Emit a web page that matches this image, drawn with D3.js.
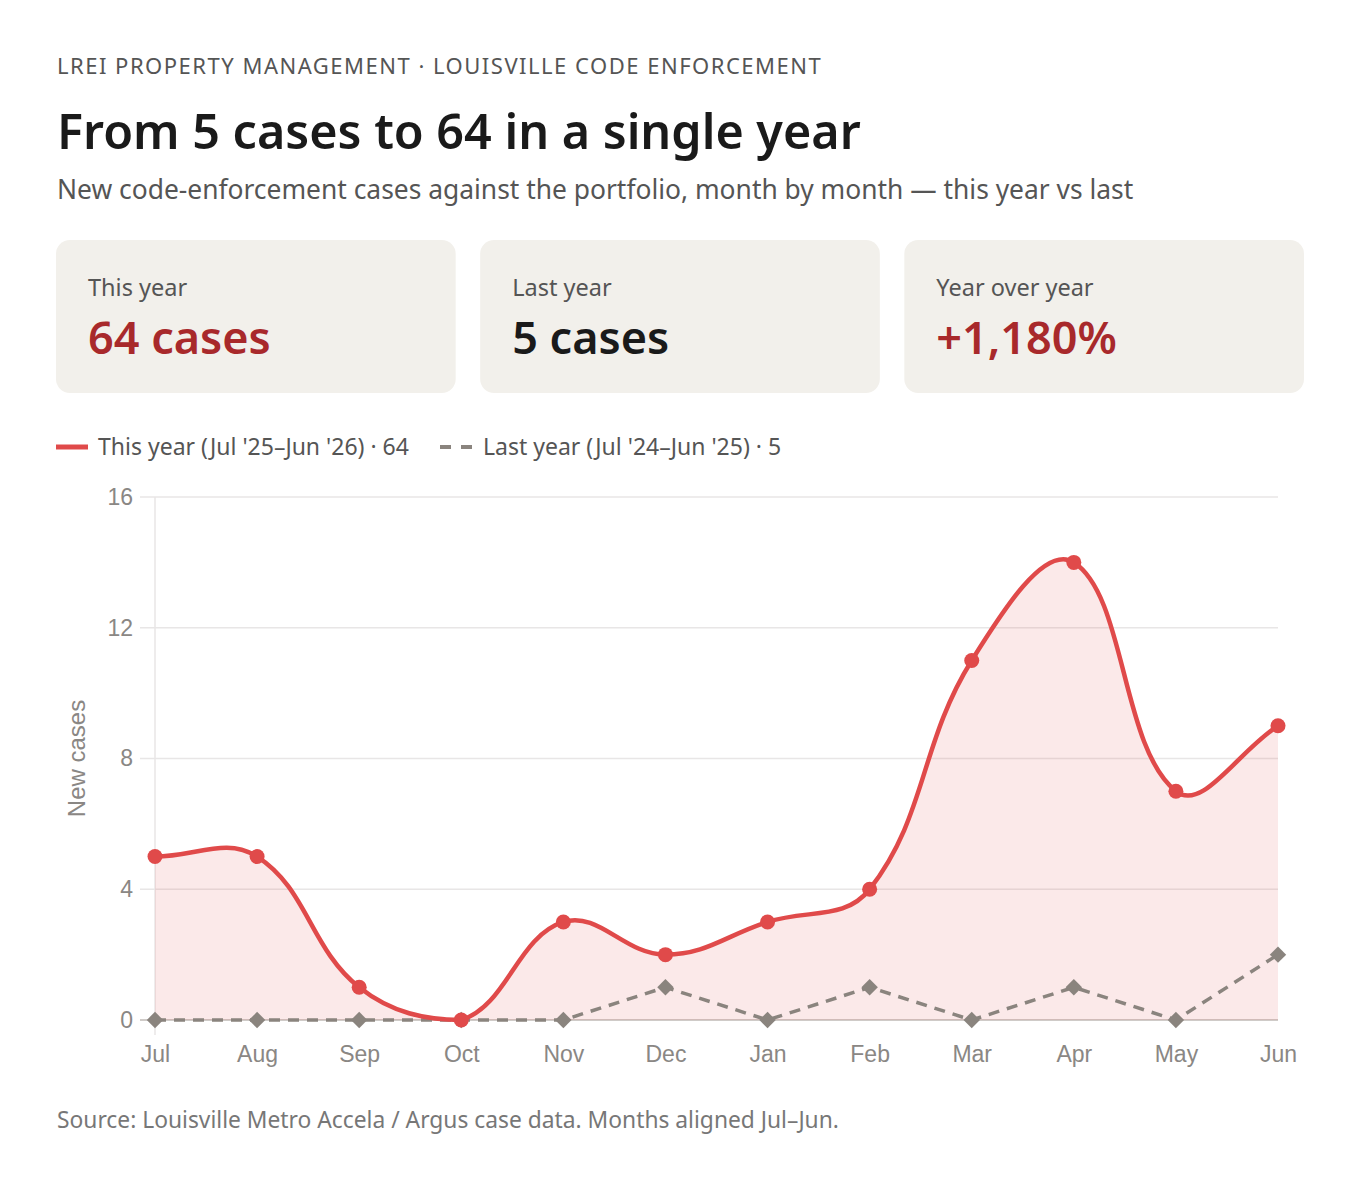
<!DOCTYPE html>
<html><head><meta charset="utf-8">
<script src="https://cdn.jsdelivr.net/npm/d3@7/dist/d3.min.js"></script>
<style>
html,body{margin:0;padding:0;background:#fff;}
svg{display:block;}
</style></head>
<body>
<svg id="chart" width="1360" height="1182"></svg>
<script>
const months = ["Jul","Aug","Sep","Oct","Nov","Dec","Jan","Feb","Mar","Apr","May","Jun"];
const thisYear = [5,5,1,0,3,2,3,4,11,14,7,9];
const lastYear = [0,0,0,0,0,1,0,1,0,1,0,2];
const yTicks = [0,4,8,12,16];
const kicker = "LREI PROPERTY MANAGEMENT · LOUISVILLE CODE ENFORCEMENT";
const title = "From 5 cases to 64 in a single year";
const subtitle = "New code-enforcement cases against the portfolio, month by month — this year vs last";
const cards = [
  {label:"This year", value:"64 cases", accent:true},
  {label:"Last year", value:"5 cases", accent:false},
  {label:"Year over year", value:"+1,180%", accent:true}
];
const legendItems = ["This year (Jul '25–Jun '26) · 64", "Last year (Jul '24–Jun '25) · 5"];
const source = "Source: Louisville Metro Accela / Argus case data. Months aligned Jul–Jun.";

const UI = "'Segoe UI','Noto Sans','Open Sans',sans-serif";
const AX = "'Liberation Sans',Arial,Helvetica,sans-serif";
const RED = "#e04a4a", DARKRED = "#a8292b", GREY = "#8a847e";

const svg = d3.select("#chart");

svg.append("text").attr("x",57).attr("y",74).attr("font-family",UI).attr("font-size",22)
  .attr("letter-spacing",1.5).attr("fill","#555").text(kicker);
svg.append("text").attr("x",57).attr("y",149).attr("font-family",UI).attr("font-size",48.5)
  .attr("font-weight",600).attr("fill","#1a1a1a").text(title);
svg.append("text").attr("x",57).attr("y",199).attr("font-family",UI).attr("font-size",26.4)
  .attr("fill","#555").text(subtitle);

// cards
const cardX = d3.scaleBand().domain(d3.range(cards.length)).range([56,1304]).paddingInner(24/(1248/3));
const cg = svg.selectAll("g.card").data(cards).join("g").attr("class","card")
  .attr("transform",(d,i)=>`translate(${cardX(i)},240)`);
cg.append("rect").attr("width",cardX.bandwidth()).attr("height",153).attr("rx",14).attr("fill","#f2f0eb");
cg.append("text").attr("x",32).attr("y",56).attr("font-family",UI).attr("font-size",23.5).attr("fill","#555").text(d=>d.label);
cg.append("text").attr("x",32).attr("y",114).attr("font-family",UI).attr("font-size",45).attr("font-weight",600)
  .attr("fill",d=>d.accent?DARKRED:"#1a1a1a").text(d=>d.value);

// legend
const lg = svg.append("g");
lg.append("line").attr("x1",56).attr("x2",88).attr("y1",447).attr("y2",447).attr("stroke",RED).attr("stroke-width",5);
lg.append("text").attr("x",98).attr("y",455).attr("font-family",UI).attr("font-size",23).attr("fill","#555").text(legendItems[0]);
lg.append("line").attr("x1",440).attr("x2",472).attr("y1",447).attr("y2",447).attr("stroke",GREY).attr("stroke-width",4).attr("stroke-dasharray","11,10");
lg.append("text").attr("x",483).attr("y",455).attr("font-family",UI).attr("font-size",23).attr("fill","#555").text(legendItems[1]);

// chart
const pLeft=155,pRight=1278,pTop=497,pBottom=1020;
const x = d3.scalePoint().domain(months).range([pLeft,pRight]);
const y = d3.scaleLinear().domain([0,16]).range([pBottom,pTop]);

// grid
const grid = svg.append("g");
grid.selectAll("line.h").data(yTicks).join("line")
  .attr("x1",140).attr("x2",pRight).attr("y1",d=>y(d)).attr("y2",d=>y(d))
  .attr("stroke",d=>d===0?"#cfcbc8":"#e8e6e6").attr("stroke-width",d=>d===0?2:1.5);
grid.append("line").attr("x1",pLeft).attr("x2",pLeft).attr("y1",pTop).attr("y2",1035)
  .attr("stroke","#e8e6e6").attr("stroke-width",1.5);

const yAxis = d3.axisLeft(y).tickValues(yTicks).tickSize(0).tickPadding(22);
svg.append("g").attr("transform",`translate(${pLeft},0)`).call(yAxis)
  .call(g=>g.select(".domain").remove())
  .call(g=>g.selectAll("text").attr("font-family",AX).attr("font-size",23).attr("fill","#8a8784"));
const xAxis = d3.axisBottom(x).tickSize(0).tickPadding(26);
svg.append("g").attr("transform",`translate(0,${pBottom})`).call(xAxis)
  .call(g=>g.select(".domain").remove())
  .call(g=>g.selectAll("text").attr("font-family",AX).attr("font-size",23).attr("fill","#8a8784"));
svg.append("text").attr("transform",`translate(85,${(pTop+pBottom)/2}) rotate(-90)`).attr("text-anchor","middle")
  .attr("font-family",AX).attr("font-size",24).attr("fill","#8a8784").text("New cases");

// Chart.js-like spline
function splinePath(pts, t){
  const clampX=v=>Math.max(pLeft,Math.min(pRight,v)), clampY=v=>Math.max(pTop,Math.min(pBottom,v));
  const cp = pts.map((p,i)=>{
    const prev = pts[i-1]||p, next = pts[i+1]||p;
    const d01 = Math.hypot(p[0]-prev[0],p[1]-prev[1]);
    const d12 = Math.hypot(next[0]-p[0],next[1]-p[1]);
    let s01 = d01/(d01+d12), s12 = d12/(d01+d12);
    if(!isFinite(s01)) s01=0; if(!isFinite(s12)) s12=0;
    const fa=t*s01, fb=t*s12;
    return {
      p:[clampX(p[0]-fa*(next[0]-prev[0])), clampY(p[1]-fa*(next[1]-prev[1]))],
      n:[clampX(p[0]+fb*(next[0]-prev[0])), clampY(p[1]+fb*(next[1]-prev[1]))]
    };
  });
  const path = d3.path();
  path.moveTo(pts[0][0],pts[0][1]);
  for(let i=1;i<pts.length;i++){
    path.bezierCurveTo(cp[i-1].n[0],cp[i-1].n[1],cp[i].p[0],cp[i].p[1],pts[i][0],pts[i][1]);
  }
  return path.toString();
}
const pts = months.map((m,i)=>[x(m), y(thisYear[i])]);
const linePath = splinePath(pts,0.4);
svg.append("path").attr("d",linePath+`L${x(months[months.length-1])},${y(0)}L${x(months[0])},${y(0)}Z`)
  .attr("fill","rgba(224,74,74,0.12)");

// last year dashed
const ly = d3.line().x((d,i)=>x(months[i])).y(d=>y(d));
svg.append("path").attr("d",ly(lastYear)).attr("fill","none").attr("stroke",GREY)
  .attr("stroke-width",3.5).attr("stroke-dasharray","11,8");
svg.append("g").selectAll("path").data(lastYear).join("path")
  .attr("d",d3.symbol(d3.symbolSquare,135))
  .attr("transform",(d,i)=>`translate(${x(months[i])},${y(d)}) rotate(45)`)
  .attr("fill",GREY);

svg.append("path").attr("d",linePath).attr("fill","none").attr("stroke",RED).attr("stroke-width",4.5);
svg.append("g").selectAll("circle").data(thisYear).join("circle")
  .attr("cx",(d,i)=>x(months[i])).attr("cy",d=>y(d)).attr("r",7.5).attr("fill",RED);

svg.append("text").attr("x",57).attr("y",1128).attr("font-family",UI).attr("font-size",22.8).attr("fill","#777").text(source);
</script>
</body></html>
